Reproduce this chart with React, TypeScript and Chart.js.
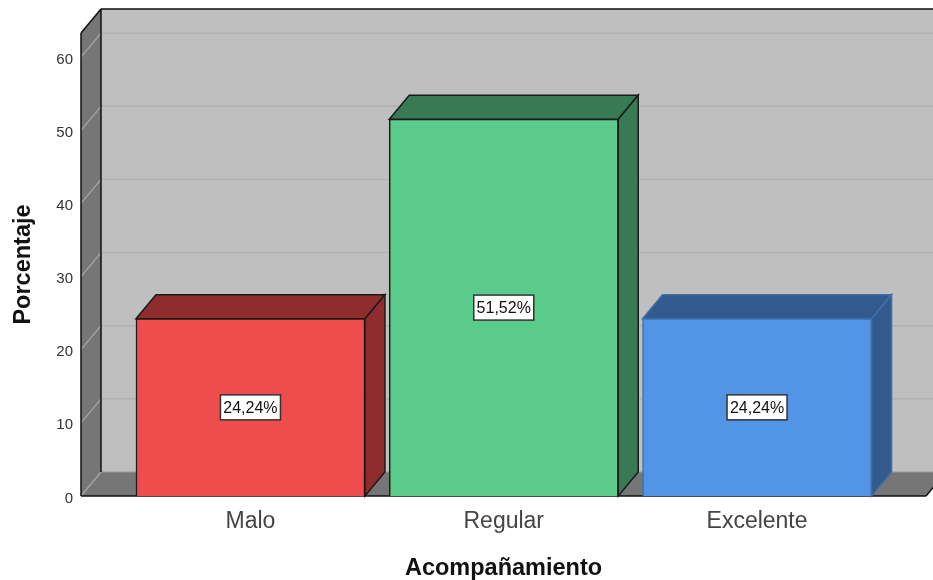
import { useEffect, useRef } from "react";
import { Chart, registerables } from "chart.js";

Chart.register(...registerables);

const categories = ["Malo", "Regular", "Excelente"];
const percentages = [24.24, 51.52, 24.24];
const valueLabels = ["24,24%", "51,52%", "24,24%"];
const frontColors = ["#EF4C4E", "#5ACB8B", "#5294E6"];
const shadeColors = ["#8F2D2E", "#377A54", "#325A8D"];
const edgeColors = ["#1a1a1a", "#1a1a1a", "#3F6FA8"];
const yTicks = [0, 10, 20, 30, 40, 50, 60];

const FONT = '"Liberation Sans", Arial, sans-serif';
const DEPTH_X = 20;
const DEPTH_Y = -24;

function poly(ctx: CanvasRenderingContext2D, pts: number[][], fill: string | null, stroke?: string, lw = 1.5) {
  ctx.beginPath();
  pts.forEach(([x, y], i) => (i ? ctx.lineTo(x, y) : ctx.moveTo(x, y)));
  ctx.closePath();
  if (fill) {
    ctx.fillStyle = fill;
    ctx.fill();
  }
  if (stroke) {
    ctx.strokeStyle = stroke;
    ctx.lineWidth = lw;
    ctx.stroke();
  }
}

function seg(ctx: CanvasRenderingContext2D, x1: number, y1: number, x2: number, y2: number, color: string, lw: number) {
  ctx.beginPath();
  ctx.moveTo(x1, y1);
  ctx.lineTo(x2, y2);
  ctx.strokeStyle = color;
  ctx.lineWidth = lw;
  ctx.stroke();
}

// Back wall, side wall and floor of the box, with gridlines folded around the corner.
const boxPlugin = {
  id: "box",
  beforeDatasetsDraw(chart: any) {
    const { ctx, chartArea: a, scales } = chart;
    const y = scales.y;
    const backL = a.left + DEPTH_X;
    const backB = a.bottom + DEPTH_Y;
    const backT = a.top + DEPTH_Y;
    const backR = a.right + DEPTH_X;
    ctx.save();
    poly(ctx, [[backL, backT], [backR, backT], [backR, backB], [backL, backB]], "#BFBFBF");
    poly(ctx, [[a.left, a.top], [backL, backT], [backL, backB], [a.left, a.bottom]], "#767676");
    poly(ctx, [[a.left, a.bottom], [backL, backB], [backR, backB], [a.right, a.bottom]], "#767676");
    seg(ctx, backL, backB, backR, backB, "#999999", 1);
    for (const t of yTicks) {
      const py = y.getPixelForValue(t);
      if (t > 0) seg(ctx, backL, py + DEPTH_Y, backR, py + DEPTH_Y, "#B2B2B2", 1.5);
      seg(ctx, a.left, py, backL, py + DEPTH_Y, "#A8A8A8", 1.2);
    }
    seg(ctx, a.left, a.top, a.left, a.bottom, "#111", 1.5);
    seg(ctx, backL, backT, backL, backB, "#111", 1.5);
    seg(ctx, a.left, a.top, backL, backT, "#111", 1.5);
    seg(ctx, backL, backT, backR, backT, "#111", 1.5);
    seg(ctx, a.left, a.bottom, a.right, a.bottom, "#111", 1.5);
    seg(ctx, a.right, a.bottom, backR, backB, "#111", 1.5);

    // Top and right faces of each bar sit behind its front rectangle.
    chart.getDatasetMeta(0).data.forEach((bar: any, i: number) => {
      const l = bar.x - bar.width / 2;
      const r = bar.x + bar.width / 2;
      const t = bar.y;
      const b = bar.base;
      const edge = edgeColors[i];
      poly(ctx, [[l, t], [l + DEPTH_X, t + DEPTH_Y], [r + DEPTH_X, t + DEPTH_Y], [r, t]], shadeColors[i], edge);
      poly(ctx, [[r, t], [r + DEPTH_X, t + DEPTH_Y], [r + DEPTH_X, b + DEPTH_Y], [r, b]], shadeColors[i], edge);
    });
    ctx.restore();
  },
  afterDatasetsDraw(chart: any) {
    const { ctx } = chart;
    ctx.save();
    ctx.font = `16px ${FONT}`;
    ctx.textAlign = "center";
    ctx.textBaseline = "middle";
    chart.getDatasetMeta(0).data.forEach((bar: any, i: number) => {
      const cy = (bar.y + bar.base) / 2;
      const w = 60;
      const h = 25;
      ctx.fillStyle = "#fff";
      ctx.fillRect(bar.x - w / 2, cy - h / 2, w, h);
      ctx.strokeStyle = "#333";
      ctx.lineWidth = 1.5;
      ctx.strokeRect(bar.x - w / 2, cy - h / 2, w, h);
      ctx.fillStyle = "#111";
      ctx.fillText(valueLabels[i], bar.x, cy + 1);
    });
    ctx.restore();
  },
};

export default function App() {
  const ref = useRef<HTMLCanvasElement>(null);
  useEffect(() => {
    if (!ref.current) return;
    const chart = new Chart(ref.current, {
      type: "bar",
      data: {
        datasets: [
          {
            data: percentages.map((v, i) => ({ x: i, y: v })),
            backgroundColor: frontColors,
            borderColor: edgeColors,
            borderWidth: 1.5,
            barThickness: 229,
            clip: false,
          } as any,
        ],
      },
      plugins: [boxPlugin],
      options: {
        responsive: false,
        animation: false,
        layout: { padding: { top: 33, right: 7, left: 0, bottom: 0 } },
        plugins: { legend: { display: false }, tooltip: { enabled: false } },
        scales: {
          x: {
            type: "linear",
            offset: false,
            min: -0.669,
            max: 2.667,
            grid: { display: false, drawTicks: false },
            border: { display: false },
            ticks: {
              stepSize: 1,
              includeBounds: false,
              autoSkip: false,
              maxRotation: 0,
              padding: 12,
              color: "#444",
              font: { family: FONT, size: 23 },
              callback: (v: any) => categories[v] ?? "",
            },
            title: {
              display: true,
              text: "Acompañamiento",
              color: "#111",
              font: { family: FONT, size: 23.5, weight: "bold", lineHeight: 1 },
              padding: { top: 1.5, bottom: 0 },
            },
            afterFit: (s: any) => {
              s.height = 84;
            },
          },
          y: {
            min: 0,
            max: 63.3,
            grid: { display: false, drawTicks: false },
            border: { display: false },
            ticks: {
              stepSize: 10,
              includeBounds: false,
              padding: 8,
              labelOffset: 2.5,
              color: "#333",
              font: { family: FONT, size: 15 },
            },
            title: {
              display: true,
              text: "Porcentaje",
              color: "#111",
              font: { family: FONT, size: 23.5, weight: "bold", lineHeight: 1 },
              padding: { top: 12, bottom: 0 },
            },
            afterFit: (s: any) => {
              s.width = 81;
            },
          },
        },
      } as any,
    });
    return () => chart.destroy();
  }, []);
  return (
    <div style={{ position: "absolute", left: 0, top: 0 }}>
      <canvas ref={ref} width={933} height={580} style={{ display: "block" }} />
    </div>
  );
}
